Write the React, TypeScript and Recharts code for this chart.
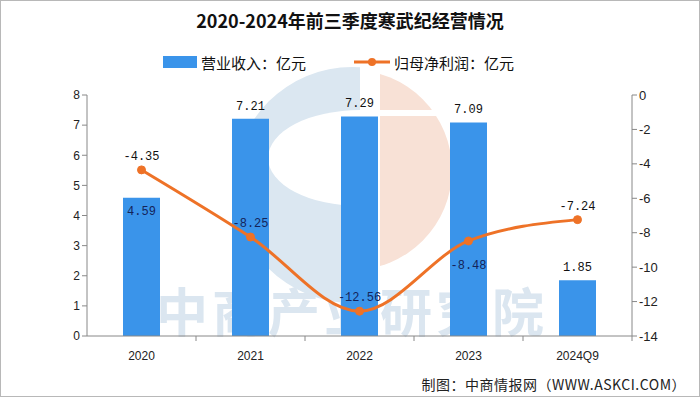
import React from "react";
import {
  ComposedChart,
  Bar,
  Line,
  XAxis,
  YAxis,
  LabelList,
} from "recharts";

const categories = ["2020", "2021", "2022", "2023", "2024Q9"];
const revenue = [4.59, 7.21, 7.29, 7.09, 1.85];
const netProfit = [-4.35, -8.25, -12.56, -8.48, -7.24];
const leftTicks = [0, 1, 2, 3, 4, 5, 6, 7, 8];
const rightTicks = [-14, -12, -10, -8, -6, -4, -2, 0];

const data = categories.map((c, i) => ({
  name: c,
  revenue: revenue[i],
  profit: netProfit[i],
}));

const BAR_COLOR = "#3a94ea";
const LINE_COLOR = "#ee7227";
const W = 700;
const H = 397;
const LEFT_W = 87;
const RIGHT_W = 68;
const BAND = (W - LEFT_W - RIGHT_W) / categories.length;

const XTick = (props: any) => {
  const { x, y, payload } = props;
  return (
    <g>
      <line x1={x + BAND / 2} x2={x + BAND / 2} y1={y - 8} y2={y - 3} stroke="#888" />
      <text x={x} y={y + 16} textAnchor="middle" fontSize={12} fill="#222" fontFamily="Liberation Sans, Arial, sans-serif">
        {payload.value}
      </text>
    </g>
  );
};

const BarLabel = (props: any) => {
  const { x, y, width, value, index } = props;
  const ty = index === 0 ? y + 17 : y - 9;
  return (
    <text x={x + width / 2} y={ty} textAnchor="middle" fontSize={12} fill={index === 0 ? "#14245a" : "#111"} fontFamily="Liberation Mono, monospace">
      {value.toFixed(2)}
    </text>
  );
};

const LineLabel = (props: any) => {
  const { x, y, value, index } = props;
  const ty = index === 3 ? y + 28 : y - 10;
  return (
    <text x={x} y={ty} textAnchor="middle" fontSize={12} fill={index === 0 || index === 4 ? "#111" : "#14245a"} fontFamily="Liberation Mono, monospace">
      {value.toFixed(2)}
    </text>
  );
};

const Watermark = () => (
  <svg width={W} height={H} style={{ position: "absolute", left: 0, top: 0 }}>
    <defs>
      <clipPath id="leftHalf">
        <rect x={0} y={0} width={360} height={H} />
      </clipPath>
      <clipPath id="rightHalf">
        <rect x={380} y={0} width={W} height={H} />
      </clipPath>
    </defs>
    <g clipPath="url(#leftHalf)">
      <circle cx={352} cy={185} r={118} fill="#dbe7f1" />
      <ellipse cx={360} cy={158} rx={92} ry={48} fill="#fff" />
    </g>
    <g clipPath="url(#rightHalf)">
      <circle cx={352} cy={170} r={100} fill="#f8e1d6" />
      <rect x={380} y={110} width={200} height={6} fill="#fff" />
    </g>
    <text x={352} y={332} textAnchor="middle" fontSize={52} fontWeight={700} fill="#dbe6f0" fontFamily="Noto Sans CJK SC, sans-serif" letterSpacing={4}>
      中商产业研究院
    </text>
  </svg>
);

export default function App() {
  return (
    <div
      style={{
        position: "absolute",
        left: 0,
        top: 0,
        width: W,
        height: H,
        background: "#fff",
        overflow: "hidden",
        fontFamily: "Noto Sans CJK SC, sans-serif",
      }}
    >
      <Watermark />
      <div style={{ position: "absolute", left: 0, top: 0, width: W - 2, height: H - 2, border: "1px solid #b8b8b8" }} />
      <div
        style={{
          position: "absolute",
          top: 6,
          left: 0,
          width: W,
          textAlign: "center",
          fontSize: 18,
          fontWeight: 700,
          color: "#111",
          lineHeight: "28px",
        }}
      >
        2020-2024年前三季度寒武纪经营情况
      </div>
      <div
        style={{
          position: "absolute",
          top: 50,
          left: 163,
          display: "flex",
          alignItems: "center",
          fontSize: 15,
          color: "#111",
          height: 24,
        }}
      >
        <span style={{ display: "inline-block", width: 34, height: 12, background: BAR_COLOR, marginRight: 4 }} />
        <span>营业收入：亿元</span>
        <span style={{ display: "inline-block", width: 48 }} />
        <svg width={36} height={12} style={{ marginRight: 4 }}>
          <line x1={0} x2={36} y1={6} y2={6} stroke={LINE_COLOR} strokeWidth={3} />
          <circle cx={18} cy={6} r={4} fill={LINE_COLOR} />
        </svg>
        <span>归母净利润：亿元</span>
      </div>
      <div style={{ position: "absolute", left: 0, top: 0 }}>
        <ComposedChart width={W} height={H} data={data} margin={{ top: 95, right: 0, bottom: 31, left: 0 }}>
          <XAxis
            dataKey="name"
            xAxisId="x"
            height={30}
            stroke="#888"
            tickLine={false}
            tick={<XTick />}
            interval={0}
          />
          <YAxis
            yAxisId="left"
            width={LEFT_W}
            domain={[0, 8]}
            ticks={leftTicks}
            interval={0}
            stroke="#888"
            tickSize={5}
            tick={{ fontSize: 12, fill: "#222", fontFamily: "Liberation Sans, Arial, sans-serif" }}
          />
          <YAxis
            yAxisId="right"
            orientation="right"
            width={RIGHT_W}
            domain={[-14, 0]}
            ticks={rightTicks}
            interval={0}
            stroke="#888"
            tickSize={5}
            tick={{ fontSize: 13, fill: "#222", fontFamily: "Liberation Sans, Arial, sans-serif" }}
          />
          <Bar dataKey="revenue" xAxisId="x" yAxisId="left" fill={BAR_COLOR} barSize={37} isAnimationActive={false}>
            <LabelList dataKey="revenue" content={<BarLabel />} />
          </Bar>
          <Line
            dataKey="profit"
            xAxisId="x"
            yAxisId="right"
            type="monotone"
            stroke={LINE_COLOR}
            strokeWidth={3}
            dot={{ r: 4, fill: LINE_COLOR, stroke: LINE_COLOR, strokeWidth: 1 }}
            isAnimationActive={false}
          >
            <LabelList dataKey="profit" content={<LineLabel />} />
          </Line>
        </ComposedChart>
      </div>
      <div
        style={{
          position: "absolute",
          right: 14,
          top: 374,
          fontSize: 14,
          color: "#222",
          letterSpacing: 0.5,
        }}
      >
        制图：中商情报网（WWW.ASKCI.COM）
      </div>
    </div>
  );
}
